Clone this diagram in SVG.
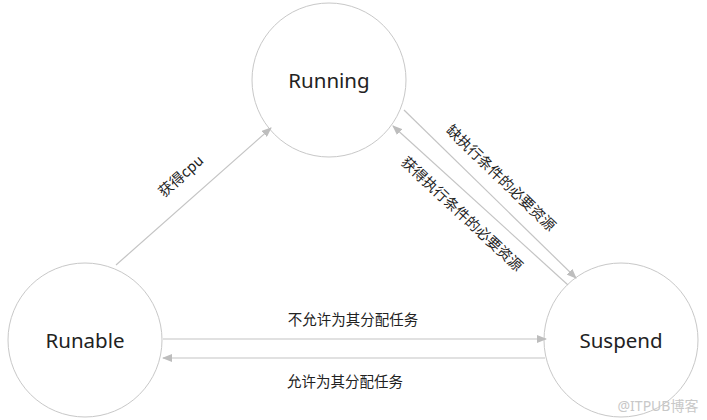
<svg xmlns="http://www.w3.org/2000/svg" width="707" height="420" viewBox="0 0 707 420">
<style>
.node{fill:#fff;stroke:#c8c8c8;stroke-width:1}
.nl{font-family:"Noto Sans","Noto Sans CJK SC",sans-serif;font-size:20.5px;fill:#222;text-anchor:middle;dominant-baseline:central}
.el{font-family:"Noto Sans CJK SC","Noto Sans",sans-serif;font-size:14.5px;fill:#222;text-anchor:middle;dominant-baseline:central}
.edge{stroke:#c4c4c4;stroke-width:1.2;fill:none;marker-end:url(#ah)}
</style>
<defs>
<marker id="ah" markerWidth="10" markerHeight="8" refX="9" refY="4" orient="auto" markerUnits="userSpaceOnUse">
<path d="M0,0 L10,4 L0,8 Z" fill="#bdbdbd"/>
</marker>
</defs>
<rect width="707" height="420" fill="#fff"/>
<g id="running"><circle class="node" cx="329" cy="80" r="77"/><text class="nl" x="329" y="80">Running</text></g>
<g id="runable"><circle class="node" cx="85" cy="340" r="77"/><text class="nl" x="85" y="340">Runable</text></g>
<g id="suspend"><circle class="node" cx="621" cy="340" r="77"/><text class="nl" x="621" y="340">Suspend</text></g>
<g id="connectors">
<line class="edge" x1="116" y1="265" x2="271" y2="128"/>
<line class="edge" x1="404" y1="110" x2="576" y2="278"/>
<line class="edge" x1="568" y1="285" x2="393" y2="126"/>
<line class="edge" x1="163" y1="339" x2="546" y2="339"/>
<line class="edge" x1="545" y1="358" x2="163" y2="358"/>
<text class="el" transform="translate(180,175) rotate(-41.6)">获得cpu</text>
<text class="el" transform="translate(502,177) rotate(44)">缺执行条件的必要资源</text>
<text class="el" transform="translate(463,213) rotate(43)">获得执行条件的必要资源</text>
<text class="el" x="353" y="318">不允许为其分配任务</text>
<text class="el" x="345" y="380">允许为其分配任务</text>
</g>
<text x="658" y="405" font-family="Noto Sans,Noto Sans CJK SC,sans-serif" font-size="14" fill="#c8c8c8" text-anchor="middle" dominant-baseline="central">@ITPUB博客</text>
</svg>
